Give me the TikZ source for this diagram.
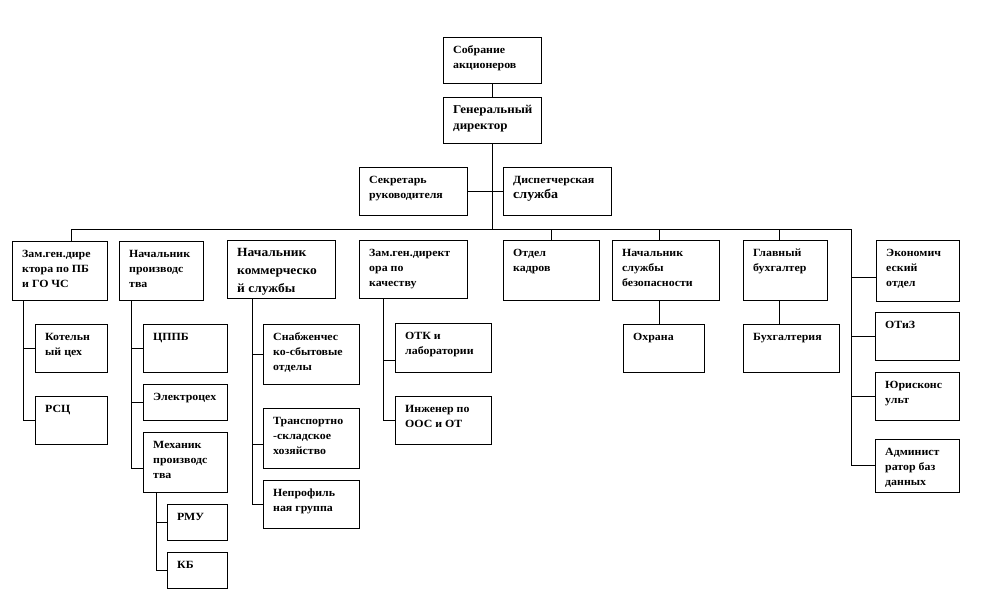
\documentclass[tikz,border=0pt]{standalone}
\usepackage{fontspec}
\setmainfont{Liberation Serif}[FakeStretch=1.08]
\tikzset{
  obox/.style={draw=black, line width=0.8pt, fill=white, inner sep=0pt, outer sep=0pt},
  otxt/.style={anchor=north west, inner sep=0pt, align=left, font=\fontsize{11}{15}\selectfont\bfseries},
  bigtxt/.style={font=\fontsize{12.5}{18}\selectfont\bfseries},
  link/.style={draw=black, line width=0.8pt},
}
% #1 extra text style, #2 name, #3 x1, #4 y1, #5 x2, #6 y2, #7 text
\newcommand\ob[7][]{%
  \node[obox, anchor=north west, minimum width={(#5-#3)*1pt}, minimum height={(#6-#4)*1pt}] (#2) at (#3,#4) {};
  \node[otxt, #1] (#2t) at ([xshift=10pt,yshift=-6pt]#2.north west) {\rule{0pt}{10pt}#7};
}
\begin{document}
\begin{tikzpicture}[x=1pt, y=-1pt]
\useasboundingbox (0,0) rectangle (984,600);
% top
\ob{sobr}{443}{37}{541}{83}{Собрание\\акционеров}
\ob[font=\fontsize{12}{16}\selectfont\bfseries]{gen}{443}{97}{541}{143}{Генеральный\\директор}
\ob{sec}{359}{167}{467}{215}{Секретарь\\руководителя}
\ob{disp}{503}{167}{611}{215}{Диспетчерская\\{\fontsize{13}{15}\selectfont служба}}
% second row
\ob{zpb}{12}{241}{107}{300}{Зам.ген.дире\\ктора по ПБ\\и ГО ЧС}
\ob{npr}{119}{241}{203}{300}{Начальник\\производс\\тва}
\ob[bigtxt]{comm}{227}{240}{335}{298}{Начальник\\коммерческо\\й службы}
\ob{qual}{359}{240}{467}{298}{Зам.ген.директ\\ора по\\качеству}
\ob{kadr}{503}{240}{599}{300}{Отдел\\кадров}
\ob{bez}{612}{240}{719}{300}{Начальник\\службы\\безопасности}
\ob{gb}{743}{240}{827}{300}{Главный\\бухгалтер}
\ob{econ}{876}{240}{959}{301}{Экономич\\еский\\отдел}
% column 1
\ob{kot}{35}{324}{107}{372}{Котельн\\ый цех}
\ob{rsc}{35}{396}{107}{444}{РСЦ}
% column 2
\ob{cppb}{143}{324}{227}{372}{ЦППБ}
\ob{el}{143}{384}{227}{420}{Электроцех}
\ob{mech}{143}{432}{227}{492}{Механик\\производс\\тва}
\ob{rmu}{167}{504}{227}{540}{РМУ}
\ob{kb}{167}{552}{227}{588}{КБ}
% column 3
\ob{snab}{263}{324}{359}{384}{Снабженчес\\ко-сбытовые\\отделы}
\ob{trans}{263}{408}{359}{468}{Транспортно\\-складское\\хозяйство}
\ob{nepr}{263}{480}{359}{528}{Непрофиль\\ная группа}
% column 4
\ob{otk}{395}{323}{491}{372}{ОТК и\\лаборатории}
\ob{eng}{395}{396}{491}{444}{Инженер по\\ООС и ОТ}
% others
\ob{ohr}{623}{324}{704}{372}{Охрана}
\ob{buh}{743}{324}{839}{372}{Бухгалтерия}
\ob{otiz}{875}{312}{959}{360}{ОТиЗ}
\ob{yur}{875}{372}{959}{420}{Юрисконс\\ульт}
\ob{adm}{875}{439}{959}{492}{Админист\\ратор баз\\данных}
% connector coordinates
\coordinate (busL) at (71,229);
\coordinate (busR) at (851,229);
\coordinate (c1) at (23,300);
\coordinate (c2) at (131,300);
\coordinate (c3) at (252,298);
\coordinate (c4) at (383,298);
\coordinate (c5) at (156,492);
\coordinate (dbez) at (659,229);
\coordinate (dgb) at (779,229);
% top connectors
\draw[link] (sobr.south) -- (gen.north);
\draw[link] (gen.south) -- (gen.south |- busR);
\draw[link] (sec.east) -- (sec.east -| gen.south);
\draw[link] (disp.west) -- (disp.west -| gen.south);
% bus
\draw[link] (busL) -- (busR);
\draw[link] (busL) -- (busL |- zpb.north);
\draw[link] (kadr.north |- busR) -- (kadr.north);
\draw[link] (dbez) -- (dbez |- bez.north);
\draw[link] (dgb) -- (dgb |- gb.north);
% right column
\draw[link] (busR) |- (adm.west);
\draw[link] ([yshift=-7pt]busR |- econ.west) -- ([yshift=-7pt]econ.west);
\draw[link] (busR |- otiz.west) -- (otiz.west);
\draw[link] (busR |- yur.west) -- (yur.west);
% column 1
\draw[link] (c1) |- (kot.west);
\draw[link] (c1) |- (rsc.west);
% column 2
\draw[link] (c2) |- (cppb.west);
\draw[link] (c2) |- (el.west);
\draw[link] (c2) |- ([yshift=-6pt]mech.west);
\draw[link] (c5) |- (rmu.west);
\draw[link] (c5) |- (kb.west);
% column 3
\draw[link] (c3) |- (snab.west);
\draw[link] (c3) |- ([yshift=-6pt]trans.west);
\draw[link] (c3) |- (nepr.west);
% column 4
\draw[link] (c4) |- ([yshift=-13pt]otk.west);
\draw[link] (c4) |- (eng.west);
% single links
\draw[link] (dbez |- bez.south) -- (dbez |- ohr.north);
\draw[link] (dgb |- gb.south) -- (dgb |- buh.north);
\end{tikzpicture}
\end{document}
